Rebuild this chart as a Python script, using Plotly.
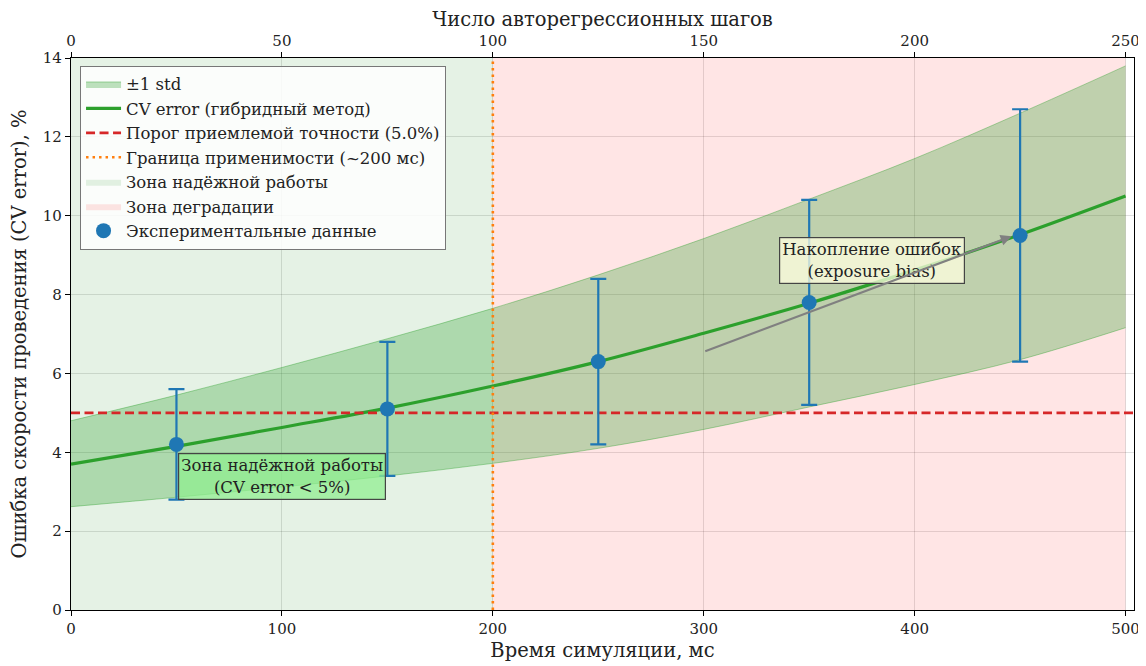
import plotly.graph_objects as go

# ---------------- data ----------------
# smooth model curve
curve_x = [0, 50, 100, 150, 200, 250, 300, 350, 400, 450, 500]
curve_y = [3.70, 4.15, 4.63, 5.12, 5.68, 6.30, 7.02, 7.78, 8.62, 9.52, 10.50]
band_upper = [4.80, 5.45, 6.15, 6.88, 7.65, 8.50, 9.42, 10.42, 11.45, 12.60, 13.80]
band_lower = [2.62, 2.86, 3.12, 3.40, 3.72, 4.10, 4.58, 5.15, 5.72, 6.35, 7.16]

# experimental points
exp_x = [50, 150, 250, 350, 450]
exp_y = [4.2, 5.1, 6.3, 7.8, 9.5]
exp_err = [1.4, 1.7, 2.1, 2.6, 3.2]

threshold = 5.0          # acceptable accuracy, %
boundary_ms = 200        # applicability boundary
sim_max_ms = 500
ms_per_step = 2          # 250 steps == 500 ms

x_range = [0, 504]
y_range = [0, 14]
bottom_ticks = [0, 100, 200, 300, 400, 500]
top_ticks = [0, 50, 100, 150, 200, 250]
y_ticks = [0, 2, 4, 6, 8, 10, 12, 14]

arrow_from = (300, 6.55)
arrow_to = (446, 9.48)
note_reliable = (100, 3.38)
note_bias = (380, 8.87)

FONT = "DejaVu Serif"
TXT = "#222"

fig = go.Figure()

# zones
fig.add_trace(go.Scatter(
    x=[0, boundary_ms, boundary_ms, 0, 0],
    y=[y_range[0], y_range[0], y_range[1], y_range[1], y_range[0]],
    fill="toself", fillcolor="rgba(0,128,0,0.10)", mode="lines",
    line=dict(width=0, color="rgba(0,128,0,0.10)"),
    name="Зона надёжной работы", legendrank=5, hoverinfo="skip"))
fig.add_trace(go.Scatter(
    x=[boundary_ms, sim_max_ms, sim_max_ms, boundary_ms, boundary_ms],
    y=[y_range[0], y_range[0], y_range[1], y_range[1], y_range[0]],
    fill="toself", fillcolor="rgba(255,0,0,0.10)", mode="lines",
    line=dict(width=0, color="rgba(255,0,0,0.10)"),
    name="Зона деградации", legendrank=6, hoverinfo="skip"))

# ±1 std band
fig.add_trace(go.Scatter(
    x=curve_x, y=band_lower, mode="lines",
    line=dict(width=1, color="rgba(44,160,44,0.4)", shape="spline"),
    showlegend=False, hoverinfo="skip"))
fig.add_trace(go.Scatter(
    x=curve_x, y=band_upper, mode="lines", fill="tonexty",
    fillcolor="rgba(44,160,44,0.30)",
    line=dict(width=1, color="rgba(44,160,44,0.4)", shape="spline"),
    name="±1 std", legendrank=1))

# model curve
fig.add_trace(go.Scatter(
    x=curve_x, y=curve_y, mode="lines",
    line=dict(width=3.2, color="#2ca02c", shape="spline"),
    name="CV error (гибридный метод)", legendrank=2))

# threshold
fig.add_trace(go.Scatter(
    x=x_range, y=[threshold, threshold], mode="lines",
    line=dict(width=2.8, color="#d62728", dash="9px,4.5px"),
    name=f"Порог приемлемой точности ({threshold:.1f}%)", legendrank=3))

# boundary
fig.add_trace(go.Scatter(
    x=[boundary_ms, boundary_ms], y=y_range, mode="lines",
    line=dict(width=2.6, color="#ff7f0e", dash="2.5px,4px"),
    name=f"Граница применимости (~{boundary_ms} мс)", legendrank=4))

# experimental data
fig.add_trace(go.Scatter(
    x=exp_x, y=exp_y, mode="markers",
    marker=dict(size=15, color="#1f77b4"),
    error_y=dict(type="data", array=exp_err, color="#1f77b4",
                 thickness=2.2, width=8),
    name="Экспериментальные данные", legendrank=7))

# invisible trace for top axis
fig.add_trace(go.Scatter(
    x=[v / ms_per_step for v in x_range], y=[None, None],
    xaxis="x2", mode="lines", showlegend=False, hoverinfo="skip"))

axis_common = dict(
    showline=True, linecolor="black", linewidth=1.2,
    ticks="outside", ticklen=5, tickwidth=1.2, tickcolor="black",
    tickfont=dict(family=FONT, size=15, color=TXT),
    zeroline=False, automargin=False,
)
title_font = dict(family=FONT, size=19.5, color=TXT)

fig.update_layout(
    width=1138, height=658,
    margin=dict(l=63, r=12, t=50, b=56),
    paper_bgcolor="white", plot_bgcolor="white",
    font=dict(family=FONT, size=16.5, color=TXT),
    xaxis=dict(
        range=x_range, tickvals=bottom_ticks,
        showgrid=True, gridcolor="rgba(0,0,0,0.12)", gridwidth=1,
        title=dict(text="Время симуляции, мс", font=title_font, standoff=6),
        mirror=False, **axis_common),
    xaxis2=dict(
        range=[v / ms_per_step for v in x_range], tickvals=top_ticks,
        overlaying="x", side="top", showgrid=False,
        title=dict(text="Число авторегрессионных шагов", font=title_font,
                   standoff=0),
        **axis_common),
    yaxis=dict(
        range=y_range, tickvals=y_ticks,
        showgrid=True, gridcolor="rgba(0,0,0,0.12)", gridwidth=1,
        title=dict(text="Ошибка скорости проведения (CV error), %",
                   font=title_font, standoff=15),
        mirror=True, **axis_common),
    legend=dict(
        x=0.0085, y=0.986, xanchor="left", yanchor="top",
        traceorder="normal",
        bgcolor="rgba(255,255,255,0.85)", bordercolor="#777", borderwidth=1,
        font=dict(family=FONT, size=16.5, color=TXT),
        itemwidth=35, tracegroupgap=0),
    showlegend=True,
)

fig.add_annotation(
    x=note_reliable[0], y=note_reliable[1], xref="x", yref="y",
    text="Зона надёжной работы<br>(CV error < 5%)", showarrow=False,
    font=dict(family=FONT, size=16.5, color=TXT),
    bgcolor="rgba(144,238,144,0.75)", bordercolor="#444", borderwidth=1.2,
    borderpad=2)
fig.add_annotation(
    x=note_bias[0], y=note_bias[1], xref="x", yref="y",
    text="Накопление ошибок<br>(exposure bias)", showarrow=False,
    font=dict(family=FONT, size=16.5, color=TXT),
    bgcolor="rgba(255,255,224,0.75)", bordercolor="#444", borderwidth=1.2,
    borderpad=2)
fig.add_annotation(
    x=arrow_to[0], y=arrow_to[1], ax=arrow_from[0], ay=arrow_from[1],
    xref="x", yref="y", axref="x", ayref="y", text="",
    showarrow=True, arrowhead=2, arrowsize=1, arrowwidth=2.2,
    arrowcolor="gray")

fig.write_html("out.html")
